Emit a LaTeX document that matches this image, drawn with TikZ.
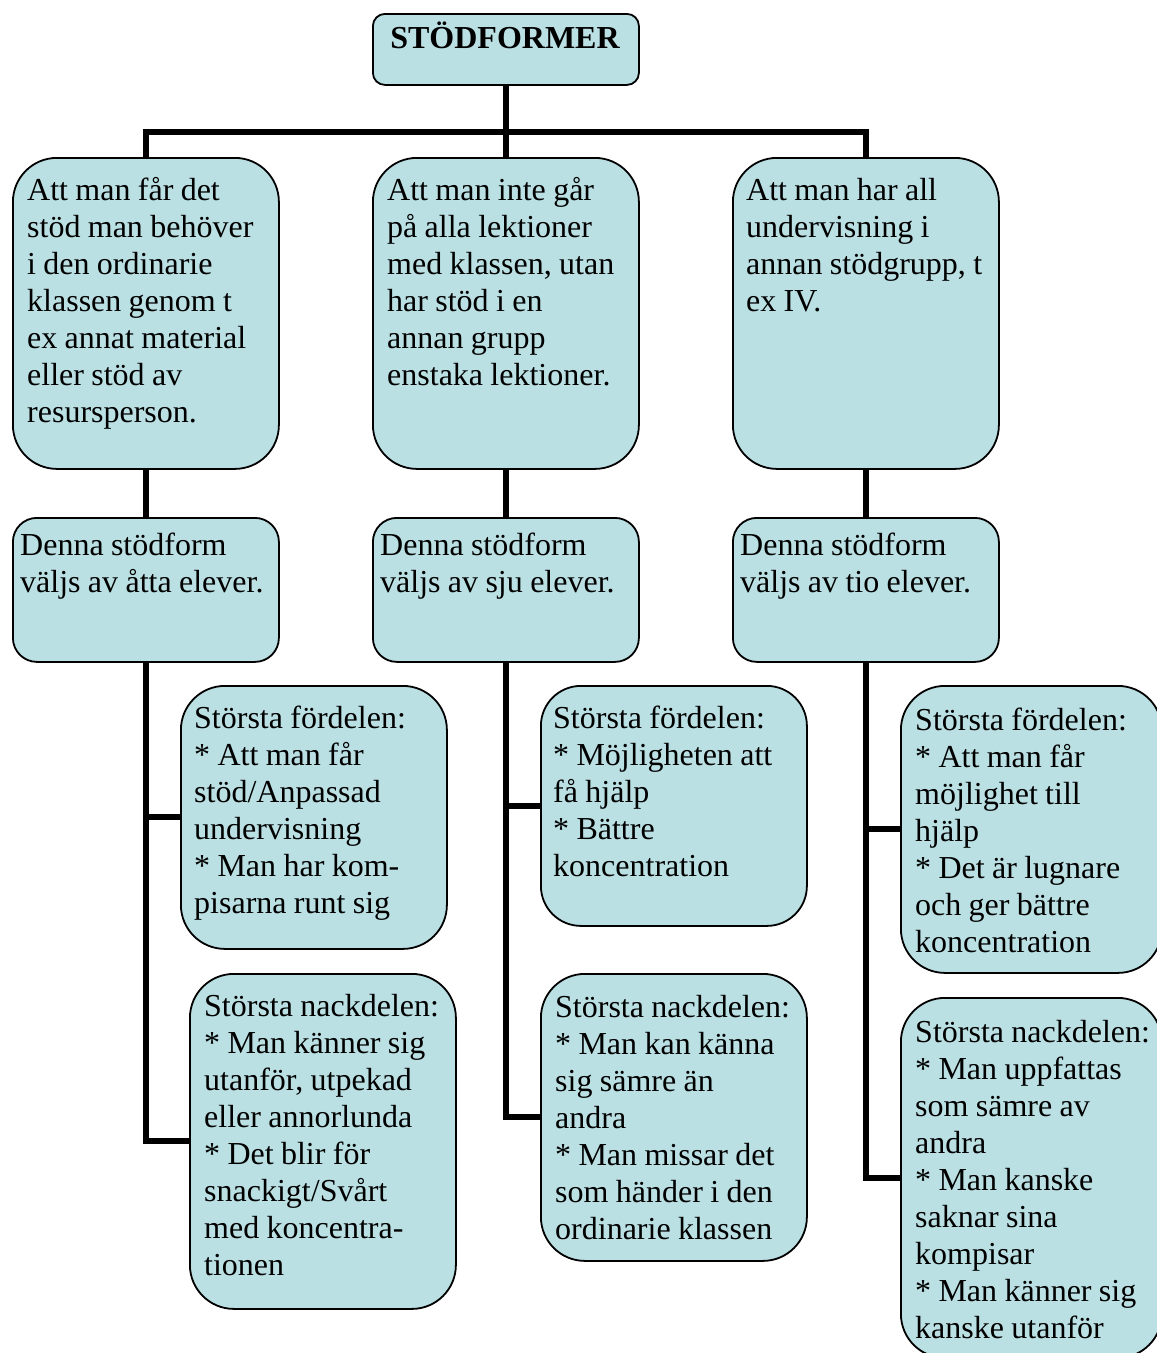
\documentclass[tikz,border=0pt]{standalone}
\usepackage{fontspec}
\setmainfont[WordSpace=0.92]{Liberation Serif}
\usetikzlibrary{backgrounds}
\definecolor{boxfill}{RGB}{186,224,227}
\begin{document}
\begin{tikzpicture}[x=1pt,y=-1pt,
  card/.style={draw=black, line width=1.8pt, fill=boxfill, rectangle,
    inner sep=0pt, anchor=north west},
  label/.style={inner sep=0pt, anchor=base west, text width=258pt, align=flush left,
    font={\fontsize{32}{37}\selectfont}},
  conn/.style={line width=6pt, draw=black}]
\useasboundingbox (0,0) rectangle (1157,1353);

% boxes
\node[card, rounded corners=12pt, minimum width=266pt, minimum height=71pt] (title) at (372,13) {};
\node[card, rounded corners=44pt, minimum width=266pt, minimum height=311pt] (l1a) at (12,157) {};
\node[card, rounded corners=44pt, minimum width=266pt, minimum height=311pt] (l1b) at (372,157) {};
\node[card, rounded corners=44pt, minimum width=266pt, minimum height=311pt] (l1c) at (732,157) {};
\node[card, rounded corners=24pt, minimum width=266pt, minimum height=144pt] (l2a) at (12,517) {};
\node[card, rounded corners=24pt, minimum width=266pt, minimum height=144pt] (l2b) at (372,517) {};
\node[card, rounded corners=24pt, minimum width=266pt, minimum height=144pt] (l2c) at (732,517) {};
\node[card, rounded corners=44pt, minimum width=266pt, minimum height=263pt] (advA) at (180,685) {};
\node[card, rounded corners=40pt, minimum width=266pt, minimum height=240pt] (advB) at (540,685) {};
\node[card, rounded corners=44pt, minimum width=261pt, minimum height=287pt] (advC) at (900,685) {};
\node[card, rounded corners=44pt, minimum width=266pt, minimum height=335pt] (disA) at (189,973) {};
\node[card, rounded corners=44pt, minimum width=266pt, minimum height=287pt] (disB) at (540,973) {};
\node[card, rounded corners=44pt, minimum width=261pt, minimum height=360pt] (disC) at (900,997) {};

% texts
\node[inner sep=0pt, anchor=base, font={\fontsize{32}{37}\selectfont\bfseries}] (ttitle) at (505,48) {STÖDFORMER};
\node[label] (tl1a) at (27,200) {Att man får det\\stöd man behöver\\i den ordinarie\\klassen genom t\\ex annat material\\eller stöd av\\resursperson.};
\node[label] (tl1b) at (387,200) {Att man inte går\\på alla lektioner\\med klassen, utan\\har stöd i en\\annan grupp\\enstaka lektioner.};
\node[label] (tl1c) at (746,200) {Att man har all\\undervisning i\\annan stödgrupp, t\\ex IV.};
\node[label] (tl2a) at (20,555) {Denna stödform\\väljs av åtta elever.};
\node[label] (tl2b) at (380,555) {Denna stödform\\väljs av sju elever.};
\node[label] (tl2c) at (740,555) {Denna stödform\\väljs av tio elever.};
\node[label] (tadvA) at (194,728) {Största fördelen:\\{}* Att man får\\stöd/Anpassad\\undervisning\\{}* Man har kom-\\pisarna runt sig};
\node[label] (tadvB) at (553,728) {Största fördelen:\\{}* Möjligheten att\\få hjälp\\{}* Bättre\\koncentration};
\node[label] (tadvC) at (915,730) {Största fördelen:\\{}* Att man får\\möjlighet till\\hjälp\\{}* Det är lugnare\\och ger bättre\\koncentration};
\node[label] (tdisA) at (204,1016) {Största nackdelen:\\{}* Man känner sig\\utanför, utpekad\\eller annorlunda\\{}* Det blir för\\snackigt/Svårt\\med koncentra-\\tionen};
\node[label] (tdisB) at (555,1017) {Största nackdelen:\\{}* Man kan känna\\sig sämre än\\andra\\{}* Man missar det\\som händer i den\\ordinarie klassen};
\node[label] (tdisC) at (915,1042) {Största nackdelen:\\{}* Man uppfattas\\som sämre av\\andra\\{}* Man kanske\\saknar sina\\kompisar\\{}* Man känner sig\\kanske utanför};

% connectors behind the boxes
\begin{scope}[on background layer]
  \draw[conn] (l1a.north) -- ++(0,-25) -| (l1c.north);
  \draw[conn] (title.south) -- (l1b.north);
  \draw[conn] (l1a.south) -- (l2a.north);
  \draw[conn] (l1b.south) -- (l2b.north);
  \draw[conn] (l1c.south) -- (l2c.north);
  \draw[conn] (l2a.south) |- (disA.west);
  \draw[conn] (l2a.south |- advA.west) -- (advA.west);
  \draw[conn] (l2b.south) |- (disB.west);
  \draw[conn] (l2b.south |- advB.west) -- (advB.west);
  \draw[conn] (l2c.south) |- (disC.west);
  \draw[conn] (l2c.south |- advC.west) -- (advC.west);
\end{scope}
\end{tikzpicture}
\end{document}
